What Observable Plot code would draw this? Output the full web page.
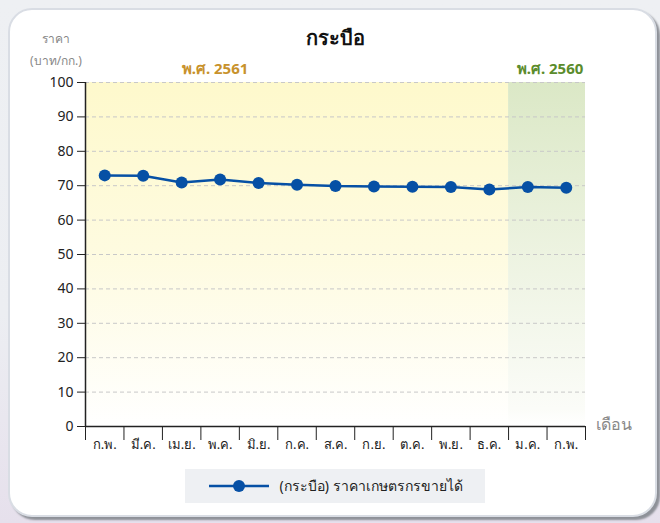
<!DOCTYPE html>
<html>
<head>
<meta charset="utf-8">
<script src="https://cdn.jsdelivr.net/npm/d3@7"></script>
<script src="https://cdn.jsdelivr.net/npm/@observablehq/plot@0.6"></script>
<style>
  html, body { margin: 0; padding: 0; }
  body { width: 660px; height: 523px; background: linear-gradient(180deg, #eef0f3 0%, #eceef2 60%, #e6e0ec 100%); position: relative; overflow: hidden; font-family: "Noto Sans", "DejaVu Sans", sans-serif; }
  #card { position: absolute; left: 8px; top: 8px; width: 645px; height: 505px; background: #fff; border: 2px solid #d9dde4; border-radius: 24px; box-shadow: 3px 3px 2px #8e9198; }
  #chart { position: absolute; left: 0; top: 0; }
  .lbl { position: absolute; white-space: nowrap; }
  #legend { position: absolute; left: 185px; top: 469px; width: 300px; height: 34px; background: #eef0f3; display: flex; align-items: center; justify-content: center; gap: 8px; font-size: 14px; color: #222; }
</style>
</head>
<body>
<div id="card"></div>
<div id="chart"></div>
<div class="lbl" style="left:0;width:670px;top:22px;text-align:center;font-size:20px;font-weight:bold;color:#111;">กระบือ</div>
<div class="lbl" style="left:30px;width:52px;top:29px;text-align:center;font-size:12px;color:#888;">ราคา</div>
<div class="lbl" style="left:22px;width:68px;top:51px;text-align:center;font-size:12px;color:#888;">(บาท/กก.)</div>
<div class="lbl" style="left:160px;width:110px;top:57px;text-align:center;font-size:15px;font-weight:bold;color:#c8922c;">พ.ศ. 2561</div>
<div class="lbl" style="left:495px;width:110px;top:57px;text-align:center;font-size:15px;font-weight:bold;color:#5b8c2c;">พ.ศ. 2560</div>
<div class="lbl" style="left:596px;top:412px;font-size:16px;color:#888;">เดือน</div>
<div id="legend">
  <svg width="64" height="14"><line x1="2" y1="7" x2="62" y2="7" stroke="#0650a5" stroke-width="2.5"/><circle cx="32" cy="7" r="6" fill="#0650a5"/></svg>
  <span>(กระบือ) ราคาเกษตรกรขายได้</span>
</div>
<script>
const months = ["ก.พ.", "มี.ค.", "เม.ย.", "พ.ค.", "มิ.ย.", "ก.ค.", "ส.ค.", "ก.ย.", "ต.ค.", "พ.ย.", "ธ.ค.", "ม.ค.", "ก.พ."];
const prices = [73.0, 72.9, 70.9, 71.8, 70.8, 70.3, 69.9, 69.8, 69.7, 69.6, 68.9, 69.6, 69.4];
const yearSpans = [
  {year: "2561", start: 0, end: 10, grad: "gY"},
  {year: "2560", start: 11, end: 12, grad: "gG"}
];
const yTicks = [0, 10, 20, 30, 40, 50, 60, 70, 80, 90, 100];

const data = months.map((m, i) => ({i, month: m, price: prices[i]}));
const idx = d3.range(months.length);
const bounds = d3.range(months.length + 1).map(k => k - 0.5);

const defs = () => {
  const svg = d3.create("svg:defs");
  const g1 = svg.append("linearGradient").attr("id", "gY").attr("x1", 0).attr("y1", 0).attr("x2", 0).attr("y2", 1);
  g1.append("stop").attr("offset", "0%").attr("stop-color", "#fef9cc");
  g1.append("stop").attr("offset", "50%").attr("stop-color", "#fefbe0");
  g1.append("stop").attr("offset", "100%").attr("stop-color", "#ffffff");
  const g2 = svg.append("linearGradient").attr("id", "gG").attr("x1", 0).attr("y1", 0).attr("x2", 0).attr("y2", 1);
  g2.append("stop").attr("offset", "0%").attr("stop-color", "#dbe8c6");
  g2.append("stop").attr("offset", "50%").attr("stop-color", "#edf3e1");
  g2.append("stop").attr("offset", "95%").attr("stop-color", "#fbfcf8");
  g2.append("stop").attr("offset", "100%").attr("stop-color", "#ffffff");
  return svg.node();
};

const chart = Plot.plot({
  width: 660,
  height: 523,
  marginLeft: 85,
  marginRight: 75,
  marginTop: 82,
  marginBottom: 97,
  style: {background: "transparent", fontFamily: "'Noto Sans', 'DejaVu Sans', sans-serif", overflow: "visible"},
  x: {type: "linear", domain: [-0.5, months.length - 0.5]},
  y: {domain: [0, 100]},
  marks: [
    defs,
    Plot.rect(yearSpans, {x1: d => d.start - 0.5, x2: d => d.end + 0.5, y1: 0, y2: 100, fill: d => `url(#${d.grad})`}),
    Plot.gridY(yTicks.filter(t => t > 0), {stroke: "#c8c8c8", strokeOpacity: 1, strokeDasharray: "4,3"}),
    Plot.axisY(yTicks, {tickSize: 8, tickPadding: 4, fontSize: 14, color: "#222", label: null, stroke: "#222"}),
    Plot.axisX(bounds, {tickSize: 14, tickFormat: () => "", label: null, stroke: "#222"}),
    Plot.axisX(idx, {tickSize: 0, tickPadding: 13, tickFormat: i => months[i], fontSize: 13, fill: "#222", label: null}),
    Plot.ruleX([-0.5], {stroke: "#222", strokeWidth: 1.5}),
    Plot.ruleY([0], {stroke: "#222", strokeWidth: 1.5}),
    Plot.line(data, {x: "i", y: "price", stroke: "#0650a5", strokeWidth: 2.5}),
    Plot.dot(data, {x: "i", y: "price", r: 6, fill: "#0650a5"})
  ]
});
document.getElementById("chart").appendChild(chart);
</script>
</body>
</html>
